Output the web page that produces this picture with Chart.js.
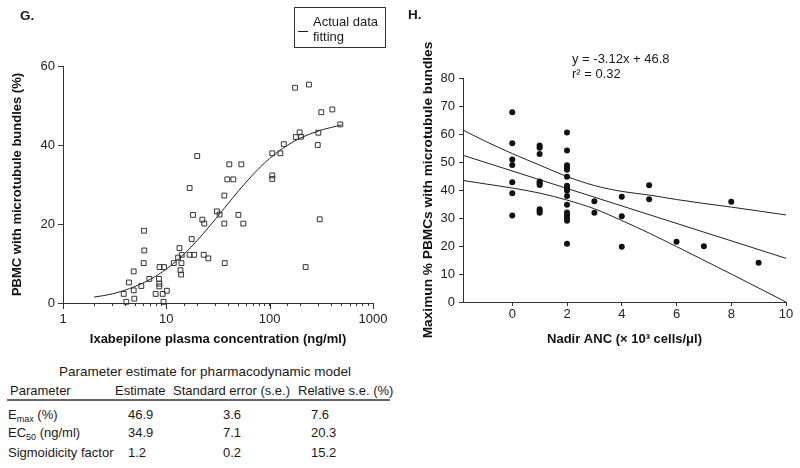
<!DOCTYPE html>
<html><head><meta charset="utf-8">
<script src="https://cdn.jsdelivr.net/npm/chart.js@4"></script>
<style>
body{margin:0;width:800px;height:468px;background:#fff;position:relative;overflow:hidden;font-family:'Liberation Sans',Arial,Helvetica,sans-serif;color:#1a1a1a}
.t{position:absolute;white-space:nowrap;font-size:13px;line-height:15px}
.b{font-weight:bold}
canvas{position:absolute;top:0}
sub{font-size:9px;vertical-align:-3px;line-height:0}
</style></head><body>
<canvas id="cg" width="400" height="360" style="left:0;width:400px;height:360px"></canvas>
<canvas id="ch" width="400" height="360" style="left:400px;width:400px;height:360px"></canvas>
<div class="t b" style="left:20px;top:8px;font-size:13.5px">G.</div>
<div class="t b" style="left:408px;top:7px;font-size:13.5px">H.</div>
<div style="position:absolute;left:294px;top:7px;width:90px;height:39px;border:1px solid #333"></div>
<div style="position:absolute;left:298px;top:31px;width:10px;height:1px;background:#222"></div>
<div class="t" id="legTxt" style="left:313px;top:14px;line-height:15px"></div>
<div class="t" id="eq1" style="left:572px;top:51px"></div>
<div class="t" id="eq2" style="left:572px;top:66px"></div>
<div id="tbl"></div>
<script>
// ---------- Panel G data ----------
const gConc = [3.87,4.1,4.35,4.83,4.83,4.9,5.73,6.04,6.08,6.12,6.85,7.88,8.49,8.55,8.55,8.6,9.22,9.4,9.5,10.1,11.8,13.0,13.4,13.7,13.9,14.0,14.1,16.8,16.8,17.6,18.1,18.6,19.9,22.3,23.3,23.0,25.5,30.9,32.8,36.4,36.4,36.7,38.9,40.7,44.5,49.8,53.2,55.6,106,106,106,127,137,176,179,195,201,223,240,292,296,305,316,404,483];
const gPct  = [2.3,0.3,5.2,3.2,8.0,1.1,4.3,10.1,18.3,13.3,6.1,2.3,6.1,4.2,4.9,9.1,2.3,0.3,9.1,3.1,10.1,11.5,13.9,8.3,7.2,10.1,12.2,12.2,29.1,16.2,22.3,12.2,37.2,21.1,20.1,12.2,11.3,23.2,22.4,27.2,20.1,10.1,31.3,35.1,31.3,22.3,35.1,20.1,32.3,31.4,37.9,37.9,40.2,54.5,42.0,43.2,42.1,9.1,55.3,40.0,43.1,21.2,48.3,49.0,45.2];
const fitConc = [2,3,5,7,10,15,20,30,50,70,100,150,200,300,500];
const fitPct  = [1.5,2.3,4.2,6.0,8.6,12.5,15.9,21.3,28.4,32.7,36.6,40.0,41.8,43.6,45.1];
const gXTicks = [1,10,100,1000];
const gYTicks = [0,20,40,60];
const gLegend = ['Actual data','fitting'];

// ---------- Panel H data ----------
const hAnc = [0,0,0,0,0,0,0, 1,1,1,1,1,1,1,1,1, 2,2,2,2,2,2,2,2,2,2,2,2,2,2,2,2,2, 3,3, 4,4,4, 5,5, 6,7,8,9];
const hMax = [67.8,56.7,50.9,48.9,42.8,38.8,30.9, 55.9,55.1,52.9,43.0,42.4,41.8,33.1,32.5,31.9, 60.5,54.1,48.8,48.0,47.2,44.7,41.5,40.9,40.3,39.8,37.9,34.7,32.0,31.0,30.1,29.0,20.8, 36.0,31.9, 37.6,30.6,19.7, 41.7,36.7, 21.5,19.9,35.8,14.0];
const regX = [-1.8,10];
const regY = [52.4,15.6];
const bandX = [-1.8,-1,0,1,2,3,4,5,6,7,8,9,10];
const upperY = [61.4,57.5,53.0,48.9,44.8,41.6,39.5,38.2,36.6,35.2,33.9,32.5,31.1];
const lowerY = [43.4,42.2,40.7,38.9,36.4,33.3,29.1,24.6,19.8,14.9,10.0,5.0,0.0];
const hXTicks = [0,2,4,6,8,10];
const eqText = ['y = -3.12x + 46.8', 'r² = 0.32'];

// ---------- Table data ----------
const tblTitle = 'Parameter estimate for pharmacodynamic model';
const tblHeader = ['Parameter','Estimate','Standard error (s.e.)','Relative s.e. (%)'];
const paramMain = ['E','EC','Sigmoidicity factor'];
const paramSub  = ['max','50',''];
const paramTail = [' (%)',' (ng/ml)',''];
const estimates = ['46.9','34.9','1.2'];
const stdErrors = ['3.6','7.1','0.2'];
const relSE     = ['7.6','20.3','15.2'];

// ---------- HTML text ----------
document.getElementById('legTxt').innerHTML = gLegend.join('<br>');
document.getElementById('eq1').textContent = eqText[0];
document.getElementById('eq2').textContent = eqText[1];
(function(){
  const t = document.getElementById('tbl');
  let h = '';
  h += `<div class="t" style="left:0;width:410px;text-align:center;top:364px;font-size:13.5px">${tblTitle}</div>`;
  const hx = [10,115,173,298];
  tblHeader.forEach((s,i)=>{ h += `<div class="t" style="left:${hx[i]}px;top:383px">${s}</div>`; });
  h += `<div style="position:absolute;left:7px;top:399px;width:383px;height:2px;background:#666"></div>`;
  const ry = [407,425,445];
  const cx = [128,223,311];
  for (let r=0;r<3;r++){
    const lbl = paramMain[r] + (paramSub[r]?`<sub>${paramSub[r]}</sub>`:'') + paramTail[r];
    h += `<div class="t" style="left:8px;top:${ry[r]}px">${lbl}</div>`;
    h += `<div class="t" style="left:${cx[0]}px;top:${ry[r]}px">${estimates[r]}</div>`;
    h += `<div class="t" style="left:${cx[1]}px;top:${ry[r]}px">${stdErrors[r]}</div>`;
    h += `<div class="t" style="left:${cx[2]}px;top:${ry[r]}px">${relSE[r]}</div>`;
  }
  t.innerHTML = h;
})();

// ---------- Charts ----------
const FF = "'Liberation Sans', Arial, Helvetica, sans-serif";
Chart.defaults.font.family = FF;
Chart.defaults.color = '#222';
const axisCol = '#333';

const majorTickPlugin = {
  id: 'majorTicks',
  afterDraw(chart, args, opts) {
    if (!opts.values) return;
    const s = chart.scales.x, ctx = chart.ctx;
    ctx.save();
    ctx.strokeStyle = axisCol; ctx.lineWidth = 1;
    opts.values.forEach(v => {
      const px = Math.round(s.getPixelForValue(v)) + 0.5;
      ctx.beginPath(); ctx.moveTo(px, s.top); ctx.lineTo(px, s.top + 6); ctx.stroke();
    });
    ctx.restore();
  }
};

new Chart(document.getElementById('cg'), {
  type: 'scatter',
  data: { datasets: [
    { data: gConc.map((x,i)=>({x, y:gPct[i]})), pointStyle:'rect', pointRadius:3.4, borderColor:'#333', backgroundColor:'rgba(0,0,0,0)', borderWidth:1, showLine:false, clip:false },
    { data: fitConc.map((x,i)=>({x, y:fitPct[i]})), showLine:true, pointRadius:0, borderColor:'#222', borderWidth:1, cubicInterpolationMode:'monotone', fill:false, clip:false }
  ]},
  options: {
    responsive:false, animation:false, devicePixelRatio:1,
    layout:{padding:{top:66,right:27,bottom:0,left:0}},
    plugins:{legend:{display:false}, tooltip:{enabled:false}, majorTicks:{values:gXTicks}},
    scales:{
      x:{type:'logarithmic', min:1, max:1000,
         afterFit(s){ s.height = 57; },
         border:{display:true,color:axisCol,width:1},
         grid:{display:true,drawOnChartArea:false,drawTicks:true,tickLength:3,color:axisCol},
         ticks:{autoSkip:false,maxRotation:0,padding:6,font:{size:13},color:'#222',
           callback:(v)=> gXTicks.includes(v) ? String(v) : ''},
         title:{display:true,text:'Ixabepilone plasma concentration (ng/ml)',font:{size:13,weight:'bold'},color:'#111',padding:{top:0,bottom:13}}
      },
      y:{min:0,max:60,
         afterFit(s){ s.width = 63; },
         afterBuildTicks(s){ s.ticks = gYTicks.map(v=>({value:v})); },
         border:{display:true,color:axisCol,width:1},
         grid:{display:true,drawOnChartArea:false,drawTicks:true,tickLength:5,color:axisCol},
         ticks:{padding:3,font:{size:13},color:'#222'},
         title:{display:true,text:'PBMC with microtubule bundles (%)',font:{size:13,weight:'bold'},color:'#111',padding:{top:10,bottom:0}}
      }
    }
  },
  plugins:[majorTickPlugin]
});

new Chart(document.getElementById('ch'), {
  type: 'scatter',
  data: { datasets: [
    { data: hAnc.map((x,i)=>({x, y:hMax[i]})), pointStyle:'circle', pointRadius:3, backgroundColor:'#111', borderWidth:0, showLine:false, clip:false },
    { data: regX.map((x,i)=>({x, y:regY[i]})), showLine:true, pointRadius:0, borderColor:'#222', borderWidth:1, fill:false, clip:false },
    { data: bandX.map((x,i)=>({x, y:upperY[i]})), showLine:true, pointRadius:0, borderColor:'#222', borderWidth:1, cubicInterpolationMode:'monotone', fill:false, clip:false },
    { data: bandX.map((x,i)=>({x, y:lowerY[i]})), showLine:true, pointRadius:0, borderColor:'#222', borderWidth:1, cubicInterpolationMode:'monotone', fill:false, clip:false }
  ]},
  options: {
    responsive:false, animation:false, devicePixelRatio:1,
    layout:{padding:{top:78,right:14,bottom:0,left:0}},
    plugins:{legend:{display:false}, tooltip:{enabled:false}},
    scales:{
      x:{type:'linear', min:-1.8, max:10,
         afterFit(s){ s.height = 58; },
         afterBuildTicks(s){ s.ticks = hXTicks.map(v=>({value:v})); },
         border:{display:true,color:axisCol,width:1},
         grid:{display:true,drawOnChartArea:false,drawTicks:true,tickLength:4,color:axisCol},
         ticks:{maxRotation:0,padding:1,font:{size:13},color:'#222'},
         title:{display:true,text:'Nadir ANC (× 10³ cells/μl)',font:{size:13,weight:'bold'},color:'#111',padding:{top:0,bottom:13}}
      },
      y:{min:0,max:80,
         afterFit(s){ s.width = 63; },
         border:{display:true,color:axisCol,width:1},
         grid:{display:true,drawOnChartArea:false,drawTicks:true,tickLength:4,color:axisCol},
         ticks:{stepSize:10,padding:4,font:{size:13},color:'#222'},
         title:{display:true,text:'Maximun % PBMCs with microtubule bundles',font:{size:13.7,weight:'bold'},color:'#111',padding:{top:20,bottom:0}}
      }
    }
  }
});
</script>
</body></html>
